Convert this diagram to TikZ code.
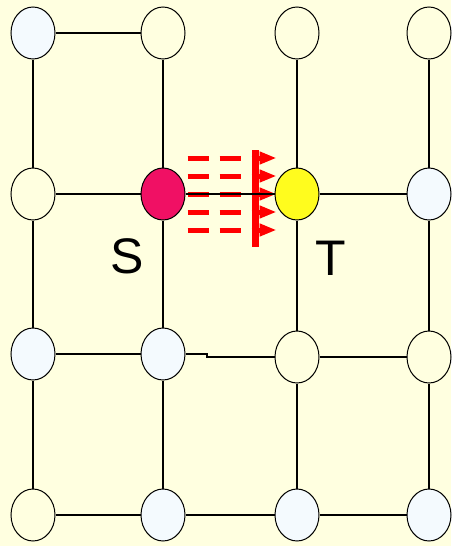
\documentclass[tikz,border=0pt]{standalone}
\usepackage{fontspec}
\setmainfont{Liberation Sans}
\usetikzlibrary{arrows.meta,shapes.geometric}

\definecolor{bgcream}{RGB}{255,255,224}
\definecolor{vtxwhite}{RGB}{244,250,254}
\definecolor{srcpink}{RGB}{240,16,100}
\definecolor{sinkyellow}{RGB}{255,252,30}

\tikzset{
  vtx/.style={draw=black,line width=1pt,ellipse,minimum width=44pt,minimum height=52pt,inner sep=0pt},
  link/.style={line width=2pt},
  flow/.style={red,line width=5pt,dash pattern=on 21pt off 11pt,-{Triangle[length=17pt,width=12pt]}}
}

\begin{document}
\begin{tikzpicture}[x=1pt,y=-1pt]
  \fill[bgcream] (0,0) rectangle (451,546);
  % vertices
  \node[vtx,fill=vtxwhite] (n00) at (33,33) {};
  \node[vtx,fill=bgcream] (n10) at (163,33) {};
  \node[vtx,fill=bgcream] (n20) at (297,33) {};
  \node[vtx,fill=bgcream] (n30) at (429,33) {};
  \node[vtx,fill=bgcream] (n01) at (33,194) {};
  \node[vtx,fill=srcpink] (S) at (163,194) {};
  \node[vtx,fill=sinkyellow] (T) at (297,194) {};
  \node[vtx,fill=vtxwhite] (n31) at (429,194) {};
  \node[vtx,fill=vtxwhite] (n02) at (33,354) {};
  \node[vtx,fill=vtxwhite] (n12) at (163,354) {};
  \node[vtx,fill=bgcream] (n22) at (297,357) {};
  \node[vtx,fill=bgcream] (n32) at (429,357) {};
  \node[vtx,fill=bgcream] (n03) at (33,515) {};
  \node[vtx,fill=vtxwhite] (n13) at (163,515) {};
  \node[vtx,fill=vtxwhite] (n23) at (297,515) {};
  \node[vtx,fill=vtxwhite] (n33) at (429,515) {};
  \node (lblS) at (127,256) {\fontsize{50}{50}\selectfont S};
  \node (lblT) at (331,258) {\fontsize{50}{50}\selectfont T};
  % flow from S to T
  \foreach \dy in {-36,-18,0,18,36}
    \draw[flow] ([xshift=2pt,yshift=\dy pt]S.east) -- ([xshift=2pt,yshift=\dy pt]T.west);
  \fill[red] ([xshift=-23pt,yshift=44pt]T.west) rectangle ([xshift=-16pt,yshift=-53pt]T.west);
  % edges
  \draw[link] (n00) -- (n10);
  \draw[link] (n00) -- (n01);
  \draw[link] (n10) -- (S);
  \draw[link] (n20) -- (T);
  \draw[link] (n30) -- (n31);
  \draw[link] (n01) -- (S);
  \draw[line width=2.5pt] (S) -- (T);
  \draw[link] (T) -- (n31);
  \draw[link] (n01) -- (n02);
  \draw[link] (S) -- (n12);
  \draw[link] (T) -- (n22);
  \draw[link] (n31) -- (n32);
  \draw[link] (n02) -- (n12);
  \draw[link] (n12) -- ++(44,0) |- (n22);
  \draw[link] (n22) -- (n32);
  \draw[link] (n02) -- (n03);
  \draw[link] (n12) -- (n13);
  \draw[link] (n22) -- (n23);
  \draw[link] (n32) -- (n33);
  \draw[link] (n03) -- (n13);
  \draw[link] (n13) -- (n23);
  \draw[link] (n23) -- (n33);
\end{tikzpicture}
\end{document}
